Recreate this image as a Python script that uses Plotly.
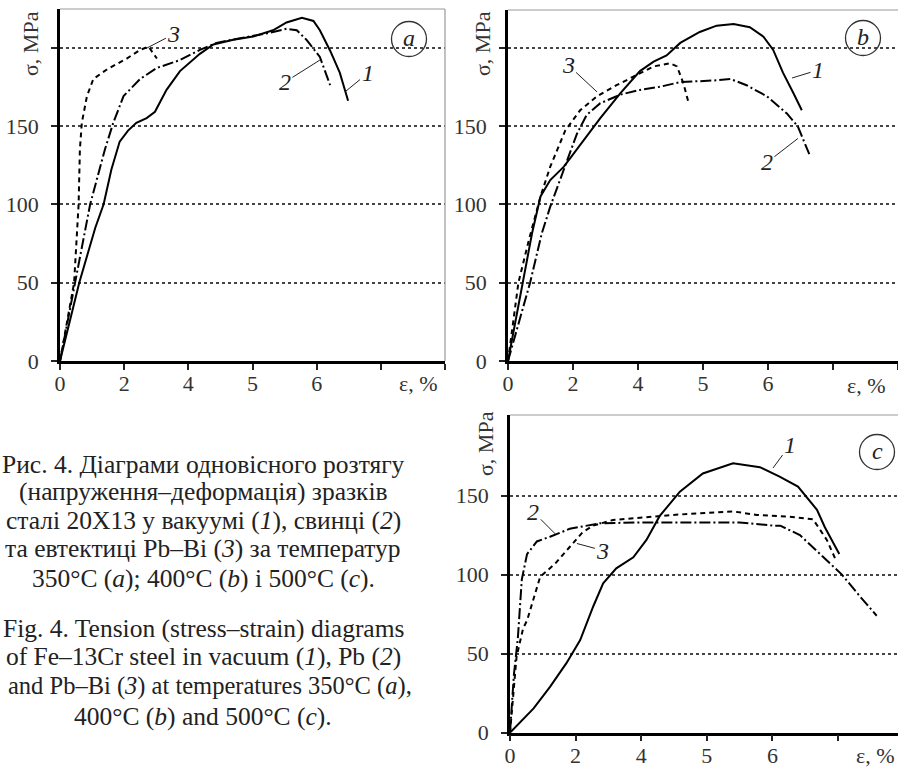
import plotly.graph_objects as go

W, H = 898, 769
FONT = "Liberation Serif"

# ---------------- data (x in axis-tick units, y in MPa) ----------------
xtick_vals = [0, 1, 2, 3, 4, 5, 6]
xtick_text = ["0", "2", "4", "5", "6", "", ""]

# panel a (350 °C)
a1_x = [0, 0.3, 0.55, 0.68, 0.8, 0.93, 1.06, 1.19, 1.35, 1.48, 1.66, 1.87, 2.18, 2.39, 2.7, 3.01, 3.32, 3.53, 3.77, 3.95, 4.05, 4.21, 4.36, 4.49]
a1_y = [0, 50, 85, 100, 122, 140, 147, 152, 155, 159, 173, 185, 196, 202, 205, 207, 211, 216, 219, 217, 211, 198, 184, 166]
a2_x = [0, 0.23, 0.47, 0.70, 0.83, 0.99, 1.25, 1.51, 1.87, 2.18, 2.44, 2.81, 3.22, 3.53, 3.69, 3.84, 4.05, 4.21]
a2_y = [0, 50, 100, 135, 152, 169, 180, 187, 192, 198.5, 203, 206, 209, 212, 211, 205, 194, 176]
a3_x = [0, 0.22, 0.29, 0.31, 0.34, 0.42, 0.52, 0.73, 1.04, 1.25, 1.38, 1.51]
a3_y = [0, 50, 100, 135, 152, 169, 180, 186, 193, 198.5, 200.6, 193]

# panel b (400 °C)
b1_x = [0, 0.22, 0.37, 0.50, 0.65, 0.86, 1.11, 1.42, 1.73, 2.03, 2.24, 2.44, 2.65, 2.95, 3.21, 3.47, 3.72, 3.93, 4.08, 4.23, 4.39, 4.52]
b1_y = [0, 50, 81.5, 105, 115.5, 124, 138, 155, 171, 185, 191, 195, 203, 210, 214, 215, 213, 207, 198.5, 184, 171, 160]
b2_x = [0, 0.34, 0.52, 0.65, 0.91, 1.06, 1.21, 1.42, 1.73, 2.03, 2.34, 2.65, 3.16, 3.42, 3.67, 3.98, 4.29, 4.46, 4.64]
b2_y = [0, 50, 81.5, 98.5, 128, 145, 157, 164.5, 170, 173, 175, 178, 179, 180, 176, 169, 158, 149.6, 131.5]
b3_x = [0, 0.16, 0.32, 0.50, 0.65, 0.88, 1.11, 1.37, 1.67, 1.93, 2.24, 2.49, 2.60, 2.70, 2.78]
b3_y = [0, 50, 77, 105, 124, 147, 160, 169, 176, 181.5, 188, 190, 188, 177, 164.5]

# panel c (500 °C)
c1_x = [0, 0.36, 0.61, 0.86, 1.07, 1.27, 1.42, 1.62, 1.88, 2.08, 2.28, 2.59, 2.94, 3.40, 3.81, 4.11, 4.39, 4.57, 4.68, 4.80, 5.02]
c1_y = [0, 15.4, 29, 44, 58.6, 80, 94.5, 104, 111, 122, 137, 152.5, 164, 170.5, 168, 162, 155.7, 147, 141, 130, 113]
c2_x = [0, 0.06, 0.12, 0.15, 0.18, 0.26, 0.41, 0.61, 0.91, 1.37, 1.98, 2.99, 3.5, 4.01, 4.12, 4.42, 4.77, 5.06, 5.34, 5.59]
c2_y = [0, 37, 60, 76, 97, 113, 121, 124, 129, 132.5, 133, 133, 133, 131, 131, 125, 111, 100, 86, 74]
c3_x = [0, 0.10, 0.20, 0.26, 0.46, 0.69, 0.91, 1.11, 1.27, 1.57, 1.98, 2.49, 2.99, 3.40, 3.76, 4.30, 4.62, 4.83, 4.97]
c3_y = [0, 48, 66, 71, 98.6, 107, 117.5, 127, 131, 134.6, 136, 137.8, 139, 140, 137.8, 136.5, 135, 122, 109]

caption_lines = [
    "Рис. 4. Діаграми одновісного розтягу",
    "(напруження–деформація) зразків",
    "сталі 20Х13 у вакуумі (<i>1</i>), свинці (<i>2</i>)",
    "та евтектиці Pb–Bi (<i>3</i>) за температур",
    "350°C (<i>a</i>); 400°C (<i>b</i>) і 500°C (<i>c</i>).",
    "Fig. 4. Tension (stress–strain) diagrams",
    "of Fe–13Cr steel in vacuum (<i>1</i>), Pb (<i>2</i>)",
    "and Pb–Bi (<i>3</i>) at temperatures 350°C (<i>a</i>),",
    "400°C (<i>b</i>) and 500°C (<i>c</i>).",
]
caption_y_px = [464, 491, 520, 548, 578, 628, 656, 686, 716]


def px(x):
    return x / W


def py(y):
    return 1 - y / H


STY = {
    1: dict(color="black", width=2),
    2: dict(color="black", width=2, dash="11px,3px,2px,3px"),
    3: dict(color="black", width=2, dash="5px,4px"),
}

fig = go.Figure()
panels = [
    ("x", "y", [(a1_x, a1_y, 1), (a2_x, a2_y, 2), (a3_x, a3_y, 3)]),
    ("x2", "y2", [(b1_x, b1_y, 1), (b2_x, b2_y, 2), (b3_x, b3_y, 3)]),
    ("x3", "y3", [(c1_x, c1_y, 1), (c2_x, c2_y, 2), (c3_x, c3_y, 3)]),
]
for xa, ya, curves in panels:
    for xs, ys, k in curves:
        fig.add_trace(go.Scatter(x=xs, y=ys, mode="lines", line=STY[k],
                                 xaxis=xa, yaxis=ya, showlegend=False,
                                 hoverinfo="skip"))

tickfont = dict(family=FONT, size=22, color="#333")


def xaxis(domain, rng, anchor):
    return dict(domain=domain, range=rng, anchor=anchor, tickvals=xtick_vals,
                ticktext=xtick_text, ticks="outside", ticklen=6, tickwidth=1.5,
                tickcolor="#222", showline=True, linecolor="black", linewidth=2.5,
                showgrid=False, zeroline=False, tickfont=tickfont,
                ticklabelstandoff=-5, fixedrange=True, automargin=False)


def yaxis(domain, rng, anchor, tv, tt):
    return dict(domain=domain, range=rng, anchor=anchor, tickvals=tv, ticktext=tt,
                ticks="outside", ticklen=6, tickwidth=1.5, tickcolor="#222",
                showline=True, linecolor="black", linewidth=2.5, showgrid=True,
                gridcolor="#444", griddash="dot", gridwidth=1.5, zeroline=False,
                tickfont=tickfont, ticklabelstandoff=8, fixedrange=True,
                automargin=False)


fig.update_layout(
    width=W, height=H, margin=dict(l=0, r=0, t=0, b=0, autoexpand=False),
    paper_bgcolor="white", plot_bgcolor="white",
    xaxis=xaxis([px(60), px(445)], [0, 6], "y"),
    yaxis=yaxis([py(361), py(9)], [0, 224.6], "x",
                [0, 50, 100, 150, 200], ["0", "50", "100", "150", ""]),
    xaxis2=xaxis([px(508), 1], [0, 6], "y2"),
    yaxis2=yaxis([py(361), py(10)], [0, 224], "x2",
                 [0, 50, 100, 150, 200], ["0", "50", "100", "150", ""]),
    xaxis3=xaxis([px(510), 1], [0, 5.915], "y3"),
    yaxis3=yaxis([py(732.7), py(415)], [0, 201], "x3",
                 [0, 50, 100, 150], ["0", "50", "100", "150"]),
)

shapes = []
# thin top/right frame lines
for xr, yr, right in [("x", "y", True), ("x2", "y2", False), ("x3", "y3", False)]:
    shapes.append(dict(type="line", xref=f"{xr} domain", yref=f"{yr} domain",
                       x0=0, x1=1, y0=1, y1=1, line=dict(color="#999", width=1.2)))
    if right:
        shapes.append(dict(type="line", xref=f"{xr} domain", yref=f"{yr} domain",
                           x0=1, x1=1, y0=0, y1=1, line=dict(color="#999", width=1.2)))

annotations = []
lab_font = dict(family=FONT, size=24, color="#222")
# circled panel letters
for cx, cy, letter in [(409, 39, "a"), (863, 38, "b"), (877, 452, "c")]:
    r = 17.5
    shapes.append(dict(type="circle", xref="paper", yref="paper",
                       x0=px(cx - r), x1=px(cx + r), y0=py(cy + r), y1=py(cy - r),
                       line=dict(color="#333", width=1.3)))
    annotations.append(dict(xref="paper", yref="paper", x=px(cx), y=py(cy - 1),
                            text=f"<i>{letter}</i>", showarrow=False,
                            font=lab_font, xanchor="center", yanchor="middle"))

# curve labels with leader lines
curve_labels = [
    ("x", "y", 1.355, 199.7, 27, -14, "3"),
    ("x", "y", 4.05, 192, -35, 22, "2"),
    ("x", "y", 4.45, 172, 22, -18, "1"),
    ("x2", "y2", 1.37, 171.7, -29, -27, "3"),
    ("x2", "y2", 4.37, 180.6, 26, -8, "1"),
    ("x2", "y2", 4.46, 142, -31, 24, "2"),
    ("x3", "y3", 4.01, 167.5, 17, -23, "1"),
    ("x3", "y3", 0.69, 125.8, -22, -22, "2"),
    ("x3", "y3", 1.02, 119.7, 26, 7, "3"),
]
for xr, yr, x, y, ax, ay, t in curve_labels:
    annotations.append(dict(xref=xr, yref=yr, x=x, y=y, ax=ax, ay=ay,
                            axref="pixel", ayref="pixel",
                            text=f"<i>{t}</i>", showarrow=True, arrowhead=0,
                            arrowwidth=1, arrowcolor="#222", standoff=0,
                            font=lab_font))

# axis titles
for cx, cy in [(30, 44), (482, 44), (485, 443)]:
    annotations.append(dict(xref="paper", yref="paper", x=px(cx), y=py(cy),
                            text="σ, MPa", textangle=-90, showarrow=False,
                            font=dict(family=FONT, size=22, color="#333"),
                            xanchor="center", yanchor="middle"))
for cx, cy, anc in [(418, 383, "center"), (866, 385, "center"), (897, 755, "right")]:
    annotations.append(dict(xref="paper", yref="paper", x=px(cx), y=py(cy),
                            text="ε, %", showarrow=False,
                            font=dict(family=FONT, size=22, color="#333"),
                            xanchor=anc, yanchor="middle"))

# caption
for i, (line, yy) in enumerate(zip(caption_lines, caption_y_px)):
    wide = i == 7
    annotations.append(dict(xref="paper", yref="paper", x=px(210 if wide else 203),
                            y=py(yy), text=line, showarrow=False,
                            font=dict(family=FONT, size=24.5 if wide else 25.5,
                                      color="#222"),
                            xanchor="center", yanchor="middle"))

fig.update_layout(shapes=shapes, annotations=annotations)
fig.write_html("out.html", config={"displayModeBar": False},
               post_script="document.body.style.margin='0';"
                           "document.body.style.overflow='hidden';")
